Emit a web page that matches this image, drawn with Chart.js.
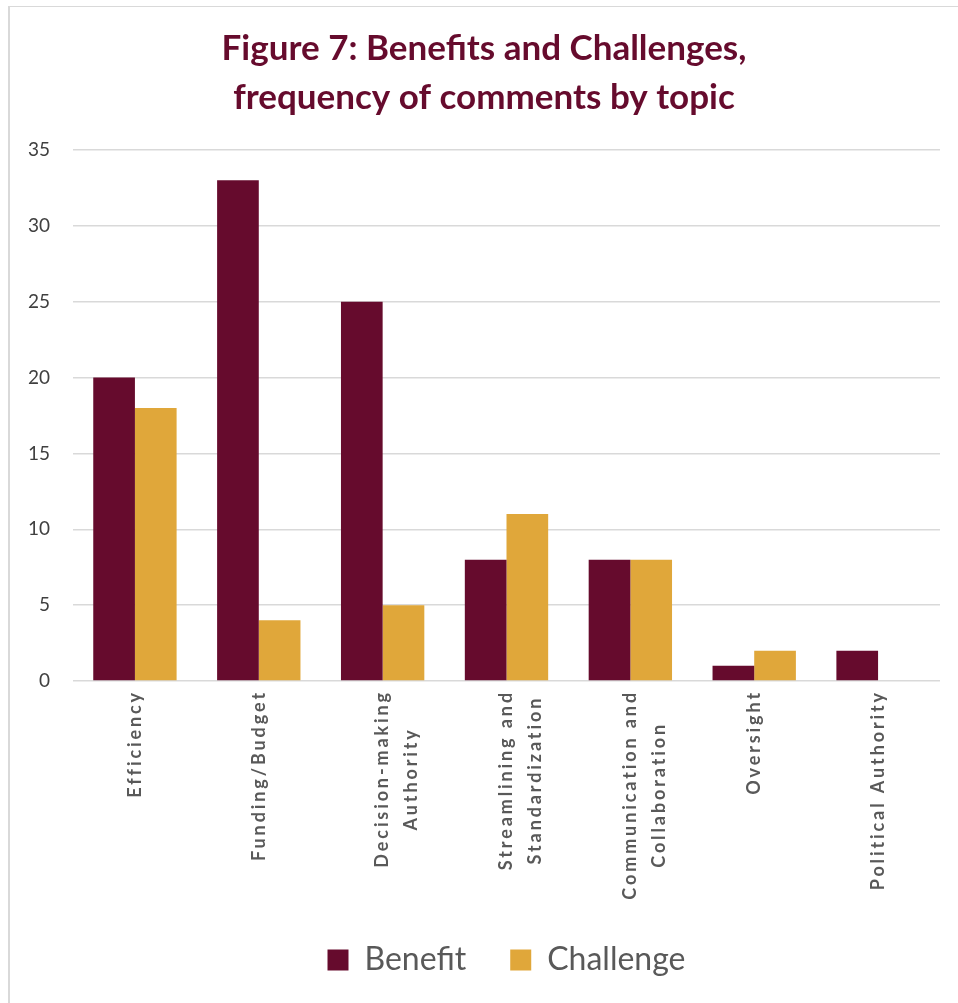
<!DOCTYPE html>
<html>
<head>
<meta charset="utf-8">
<script src="https://cdn.jsdelivr.net/npm/chart.js@4.4.1/dist/chart.umd.min.js"></script>
<style>
  html, body { margin: 0; padding: 0; background: #fff; }
  #wrap { position: relative; width: 958px; height: 1003px; }
  #frame { position: absolute; left: 8px; top: 6px; width: 950px; height: 997px;
           border-left: 2px solid #d9d9d9; border-top: 1px solid #d9d9d9; box-sizing: border-box; }
  canvas { position: absolute; left: 0; top: 0; }
</style>
</head>
<body>
<div id="wrap">
  <div id="frame"></div>
  <canvas id="c" width="958" height="1003"></canvas>
</div>
<script>
const categories = [
  ["Efficiency"],
  ["Funding/Budget"],
  ["Decision-making", "Authority"],
  ["Streamlining and", "Standardization"],
  ["Communication and", "Collaboration"],
  ["Oversight"],
  ["Political Authority"]
];
const benefitValues = [20, 33, 25, 8, 8, 1, 2];
const challengeValues = [18, 4, 5, 11, 8, 2, 0];
const yTickMin = 0, yTickMax = 35, yTickStep = 5;
const titleLines = ["Figure 7: Benefits and Challenges,", "frequency of comments by topic"];

const MAROON = '#660B2D';
const GOLD = '#E0A73A';
const XFONT = { family: 'Lato', size: 18, weight: 'bold', lineHeight: 1.6 };
const XSPACING = '2.9px';

// Center multi-line rotated labels and add letter spacing (like the Excel original)
const Cat = Chart.registry.getScale('category');
const origCompute = Cat.prototype._computeLabelItems;
Cat.prototype._computeLabelItems = function (area) {
  const items = origCompute.call(this, area);
  const ctx = this.ctx;
  ctx.save();
  ctx.font = `bold ${XFONT.size}px ${XFONT.family}`;
  ctx.letterSpacing = XSPACING;
  for (const it of items) {
    const lines = Array.isArray(it.label) ? it.label : [it.label];
    const w = Math.max(...lines.map(l => ctx.measureText(l).width));
    it.options.textAlign = 'center';
    it.options.translation = [it.options.translation[0], it.options.translation[1] + w / 2];
  }
  ctx.restore();
  return items;
};
const origDrawLabels = Cat.prototype.drawLabels;
Cat.prototype.drawLabels = function (area) {
  const ctx = this.ctx;
  ctx.save();
  ctx.letterSpacing = XSPACING;
  origDrawLabels.call(this, area);
  ctx.restore();
};

new Chart(document.getElementById('c'), {
  type: 'bar',
  data: {
    labels: categories,
    datasets: [
      { label: 'Benefit', data: benefitValues, backgroundColor: MAROON, borderWidth: 0 },
      { label: 'Challenge', data: challengeValues, backgroundColor: GOLD, borderWidth: 0 }
    ]
  },
  options: {
    responsive: false,
    animation: false,
    layout: { padding: { left: 28, right: 18, top: 0, bottom: 17 } },
    datasets: { bar: { categoryPercentage: 0.673, barPercentage: 1.0 } },
    plugins: {
      title: {
        display: true,
        text: titleLines,
        color: MAROON,
        font: { family: 'Lato', size: 35, weight: 'bold', lineHeight: 1.4 },
        padding: { top: 24, bottom: 28 }
      },
      legend: {
        position: 'bottom',
        fullSize: false,
        labels: {
          boxWidth: 21, boxHeight: 21,
          padding: 44,
          color: '#595959',
          font: { family: 'Lato', size: 32 }
        }
      },
      tooltip: { enabled: false }
    },
    scales: {
      x: {
        grid: { display: false, drawTicks: false },
        border: { display: false },
        ticks: {
          minRotation: 90, maxRotation: 90, autoSkip: false,
          padding: 9,
          color: '#595959',
          font: XFONT
        },
        afterFit: s => { s.height = 219; }
      },
      y: {
        min: yTickMin, max: yTickMax,
        grid: { color: '#d9d9d9', lineWidth: 1.5, drawTicks: false },
        border: { display: false },
        ticks: {
          stepSize: yTickStep,
          padding: 23,
          color: '#404040',
          font: { family: 'Lato', size: 19 }
        },
        afterFit: s => { s.width = 45; }
      }
    }
  }
});
</script>
</body>
</html>
